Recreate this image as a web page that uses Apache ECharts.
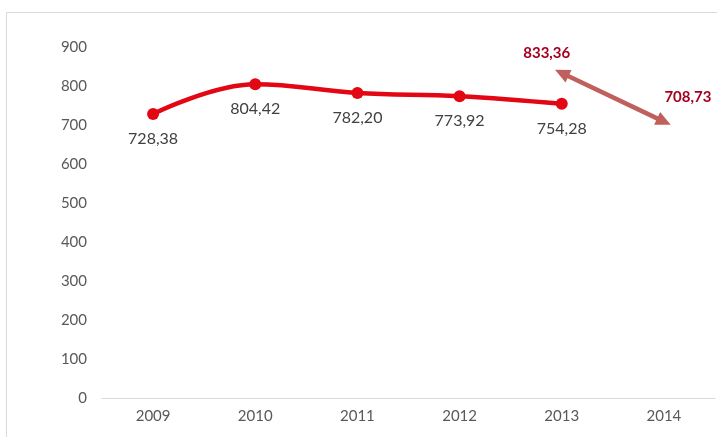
<!DOCTYPE html>
<html><head><meta charset="utf-8">
<script src="https://cdn.jsdelivr.net/npm/echarts@6/dist/echarts.min.js"></script>
<style>html,body{margin:0;padding:0;background:#fff}#c{width:717px;height:437px}</style>
</head><body><div id="c"></div>
<script>
var categories = ['2009','2010','2011','2012','2013','2014'];
var actualValues = [728.38, 804.42, 782.20, 773.92, 754.28, null];
var forecastValues = [null, null, null, null, 833.36, 708.73];
var yTicks = {min: 0, max: 900, interval: 100};

function fmt(v){ return v.toFixed(2).replace('.', ','); }

var chart = echarts.init(document.getElementById('c'));
chart.setOption({
  animation: false,
  backgroundColor: '#fff',
  graphic: [{type:'rect', shape:{x:6.5, y:12.5, width:720, height:440}, style:{fill:'none', stroke:'#d9d9d9', lineWidth:1}, silent:true}],
  grid: {left: 102, right: 2, top: 47, bottom: 39},
  xAxis: {
    type: 'category', data: categories, boundaryGap: true,
    axisLine: {lineStyle: {color: '#d9d9d9', width: 1}},
    axisTick: {show: false},
    axisLabel: {color: '#595959', fontFamily: 'Lato', fontSize: 15, margin: 11}
  },
  yAxis: {
    type: 'value', min: yTicks.min, max: yTicks.max, interval: yTicks.interval,
    splitLine: {show: false}, axisLine: {show: false}, axisTick: {show: false},
    axisLabel: {color: '#595959', fontFamily: 'Lato', fontSize: 15, margin: 15}
  },
  series: [{
    type: 'line', data: actualValues, smooth: 0.4, symbol: 'circle', symbolSize: 12,
    itemStyle: {color: '#e30613'}, lineStyle: {color: '#e30613', width: 4.5},
    label: {show: true, position: 'bottom', distance: 11, color: '#404040', fontFamily: 'Lato', fontSize: 16,
      formatter: function(p){ return fmt(p.value); }}
  }, {
    type: 'line', data: forecastValues, symbol: 'none',
    lineStyle: {opacity: 0},
    label: {show: false},
    markLine: {
      silent: true, symbol: ['triangle','triangle'], symbolSize: [14, 15],
      lineStyle: {color: '#c0605d', width: 4.5, type: 'solid'},
      label: {show: false},
      data: [[{coord: ['2013', 833.36]}, {coord: ['2014', 708.73]}]]
    },
    markPoint: {
      symbol: 'circle', symbolSize: 1, itemStyle: {color: 'rgba(0,0,0,0)'},
      label: {show: true, color: '#a50021', fontWeight: 'bold', fontFamily: 'Lato', fontSize: 15,
        formatter: function(p){ return fmt(p.value); }},
      data: [
        {coord: ['2013', 833.36], value: 833.36, label: {offset: [-15, -20]}},
        {coord: ['2014', 708.73], value: 708.73, label: {offset: [24, -24]}}
      ]
    }
  }]
});
</script></body></html>
